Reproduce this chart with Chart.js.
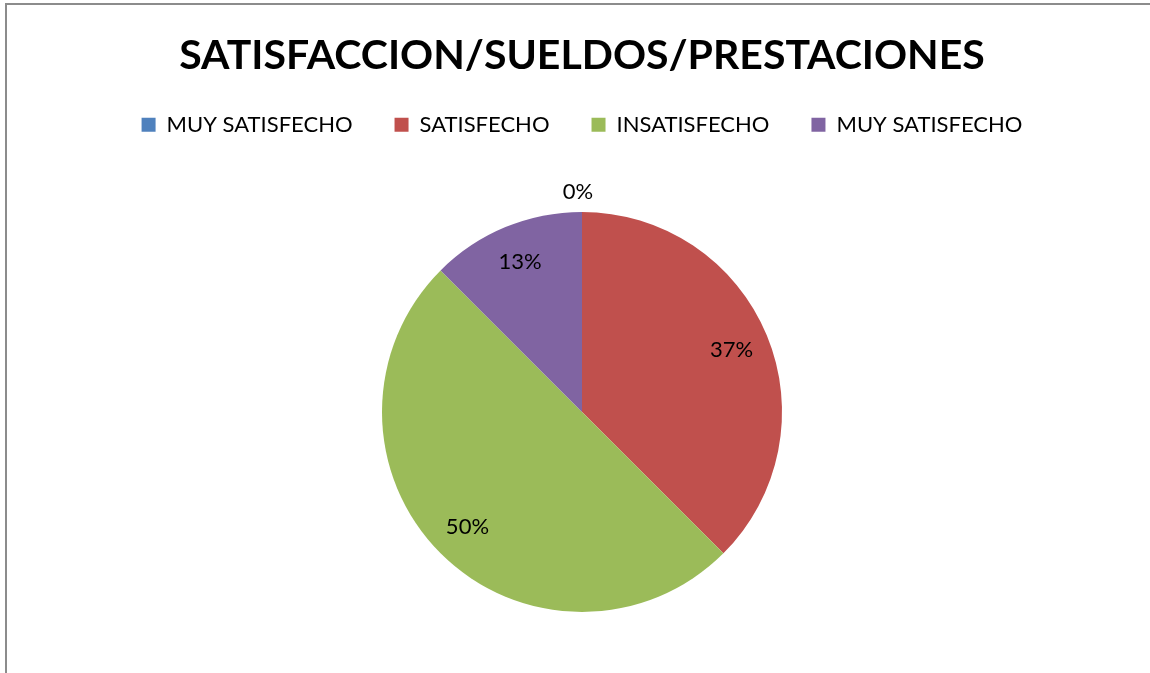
<!DOCTYPE html>
<html>
<head>
<meta charset="utf-8">
<script src="https://cdn.jsdelivr.net/npm/chart.js@4.4.0/dist/chart.umd.min.js"></script>
<style>
  html, body { margin: 0; padding: 0; background: #fff; overflow: hidden; }
  #frame {
    position: absolute; left: 5px; top: 3px; width: 1160px; height: 690px;
    border-left: 2px solid #8c8c8c; border-top: 2px solid #8c8c8c;
  }
  #wrap { position: absolute; left: 8px; top: 0; width: 1148px; height: 678px; }
</style>
</head>
<body>
<div id="frame"></div>
<div id="wrap"><canvas id="pie"></canvas></div>
<script>
'use strict';

// data
const categories = ['MUY SATISFECHO', 'SATISFECHO', 'INSATISFECHO', 'MUY SATISFECHO'];
const shares = [0, 37.5, 50, 12.5];
const shareLabels = ['0%', '37%', '50%', '13%'];
const colors = ['#4f81bd', '#c0504d', '#9bbb59', '#8064a2'];

const FONT = 'Lato, "Open Sans", sans-serif';

// percentage labels on the slices
const sliceLabels = {
  id: 'sliceLabels',
  afterDatasetsDraw(chart) {
    let ctx = chart.ctx;
    let meta = chart.getDatasetMeta(0);
    ctx.save();
    ctx.font = '22px ' + FONT;
    ctx.fillStyle = '#000';
    ctx.textAlign = 'center';
    ctx.textBaseline = 'middle';
    meta.data.forEach((arc, i) => {
      let p = arc.getProps(['x', 'y', 'startAngle', 'endAngle', 'outerRadius'], true);
      let mid = (p.startAngle + p.endAngle) / 2;
      let r = shares[i] === 0 ? p.outerRadius + 20 : p.outerRadius * 0.81;
      let x = p.x + Math.cos(mid) * r;
      let y = p.y + Math.sin(mid) * r;
      if (shares[i] === 0) x -= 4;
      ctx.fillText(shareLabels[i], x, y);
    });
    ctx.restore();
  }
};

new Chart(document.getElementById('pie'), {
  type: 'pie',
  data: {
    labels: categories,
    datasets: [{
      data: shares,
      backgroundColor: colors,
      borderWidth: 0,
      radius: 200
    }]
  },
  options: {
    responsive: true,
    maintainAspectRatio: false,
    animation: false,
    layout: { padding: 0 },
    plugins: {
      title: {
        display: true,
        text: 'SATISFACCION/SUELDOS/PRESTACIONES',
        color: '#000',
        font: { family: FONT, size: 41, weight: 'bold', lineHeight: 0.8 },
        padding: { top: 39, bottom: 0 }
      },
      legend: {
        position: 'top',
        labels: {
          color: '#000',
          font: { family: FONT, size: 22 },
          boxWidth: 14,
          boxHeight: 14,
          padding: 42
        }
      },
      tooltip: { enabled: false }
    }
  },
  plugins: [sliceLabels]
});
</script>
</body>
</html>
